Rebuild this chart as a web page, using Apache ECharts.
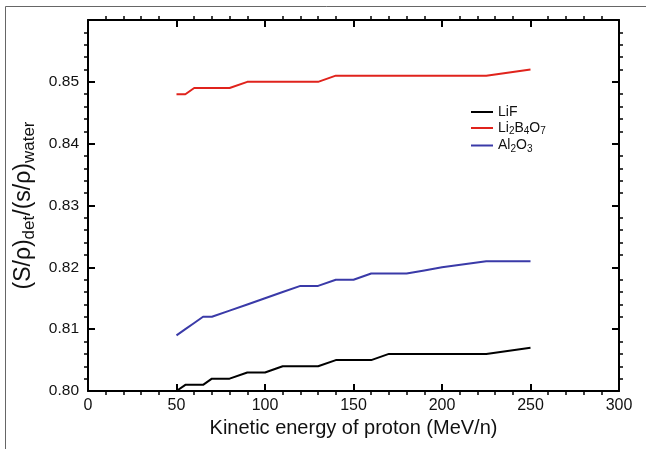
<!DOCTYPE html>
<html>
<head>
<meta charset="utf-8">
<script src="https://cdn.jsdelivr.net/npm/echarts@6/dist/echarts.min.js"></script>
<style>
html,body{margin:0;padding:0;background:#fff;}
#chart{width:646px;height:449px;}
</style>
</head>
<body>
<div id="chart"></div>
<script>
var energies = [50, 55, 60, 65, 70, 80, 90, 100, 110, 120, 130, 140, 150, 160, 170, 180, 190, 200, 225, 250];
var lifValues = [0.800, 0.801, 0.801, 0.801, 0.802, 0.802, 0.803, 0.803, 0.804, 0.804, 0.804, 0.805, 0.805, 0.805, 0.806, 0.806, 0.806, 0.806, 0.806, 0.807];
var li2b4o7Values = [0.848, 0.848, 0.849, 0.849, 0.849, 0.849, 0.850, 0.850, 0.850, 0.850, 0.850, 0.851, 0.851, 0.851, 0.851, 0.851, 0.851, 0.851, 0.851, 0.852];
var al2o3Values = [0.809, 0.810, 0.811, 0.812, 0.812, 0.813, 0.814, 0.815, 0.816, 0.817, 0.817, 0.818, 0.818, 0.819, 0.819, 0.819, 0.8195, 0.820, 0.821, 0.821];
var seriesNames = ['LiF', 'Li2B4O7', 'Al2O3'];
var legendRich = {
  'LiF': '{n|LiF}',
  'Li2B4O7': '{n|Li}{s|2}{n|B}{s|4}{n|O}{s|7}',
  'Al2O3': '{n|Al}{s|2}{n|O}{s|3}'
};
var xTicks = [0, 50, 100, 150, 200, 250, 300];
var yTicks = [0.80, 0.81, 0.82, 0.83, 0.84, 0.85];

function pairs(xs, ys) { return xs.map(function (x, i) { return [x, ys[i]]; }); }

var FONT = 'Liberation Sans, Arial, sans-serif';
var chart = echarts.init(document.getElementById('chart'), null, {renderer: 'canvas'});
function axisLine() { return {show: true, onZero: false, lineStyle: {color: '#000', width: 2}}; }
function tick() { return {show: true, inside: true, length: 7, lineStyle: {color: '#000', width: 2}}; }
function minor() { return {show: true, splitNumber: 5, length: -4, lineStyle: {color: '#000', width: 1.5}}; }

chart.setOption({
  animation: false,
  backgroundColor: '#fff',
  textStyle: {fontFamily: FONT},
  graphic: [{
    type: 'rect', shape: {x: 5.5, y: 6.5, width: 700, height: 500},
    style: {fill: 'none', stroke: '#666', lineWidth: 1}, silent: true, z: -10
  }],
  grid: {left: 88, right: 27, top: 20, bottom: 58},
  legend: {
    orient: 'vertical', left: 466, top: 100, itemGap: 2,
    itemWidth: 22, itemHeight: 2, icon: 'rect',
    data: seriesNames,
    formatter: function (n) { return legendRich[n]; },
    textStyle: {
      fontFamily: FONT, color: '#111', fontSize: 14,
      rich: {
        n: {fontSize: 14, fontFamily: FONT, color: '#111'},
        s: {fontSize: 10, fontFamily: FONT, color: '#111', padding: [7, 0, 0, 0]}
      }
    }
  },
  xAxis: [{
    type: 'value', min: 0, max: 300, interval: 50, position: 'bottom',
    name: 'Kinetic energy of proton (MeV/n)', nameLocation: 'middle', nameGap: 23,
    nameTextStyle: {fontSize: 20, color: '#111', fontFamily: FONT},
    axisLine: axisLine(), axisTick: tick(), minorTick: minor(),
    splitLine: {show: false},
    axisLabel: {fontSize: 16, color: '#111', margin: 7, fontFamily: FONT,
      formatter: function (v) { return xTicks.indexOf(v) >= 0 ? String(v) : ''; }}
  }, {
    type: 'value', min: 0, max: 300, interval: 50, position: 'top',
    axisLine: axisLine(), axisTick: tick(), minorTick: minor(),
    splitLine: {show: false}, axisLabel: {show: false}
  }],
  yAxis: [{
    type: 'value', min: 0.80, max: 0.86, interval: 0.01, position: 'left',
    name: '{n|(S/ρ)}{s|det}{n|/(s/ρ)}{s|water}', nameLocation: 'middle', nameGap: 48, nameRotate: 90,
    nameTextStyle: {
      fontSize: 23, color: '#111', fontFamily: FONT,
      rich: {
        n: {fontSize: 23, fontFamily: FONT, color: '#111'},
        s: {fontSize: 17, fontFamily: FONT, color: '#111', padding: [11, 0, 0, 0]}
      }
    },
    axisLine: axisLine(), axisTick: tick(), minorTick: minor(),
    splitLine: {show: false},
    axisLabel: {fontSize: 15.5, color: '#111', margin: 9, fontFamily: FONT,
      formatter: function (v) {
        var s = v.toFixed(2);
        return yTicks.some(function (t) { return t.toFixed(2) === s; }) ? s : '';
      }}
  }, {
    type: 'value', min: 0.80, max: 0.86, interval: 0.01, position: 'right',
    axisLine: axisLine(), axisTick: tick(), minorTick: minor(),
    splitLine: {show: false}, axisLabel: {show: false}
  }],
  series: [
    {name: 'LiF', type: 'line', data: pairs(energies, lifValues), showSymbol: false, symbol: 'none',
      lineStyle: {color: '#000', width: 2}, itemStyle: {color: '#000'}},
    {name: 'Li2B4O7', type: 'line', data: pairs(energies, li2b4o7Values), showSymbol: false, symbol: 'none',
      lineStyle: {color: '#e0231c', width: 2}, itemStyle: {color: '#e0231c'}},
    {name: 'Al2O3', type: 'line', data: pairs(energies, al2o3Values), showSymbol: false, symbol: 'none',
      lineStyle: {color: '#3a3aa8', width: 2}, itemStyle: {color: '#3a3aa8'}}
  ]
});
</script>
</body>
</html>
